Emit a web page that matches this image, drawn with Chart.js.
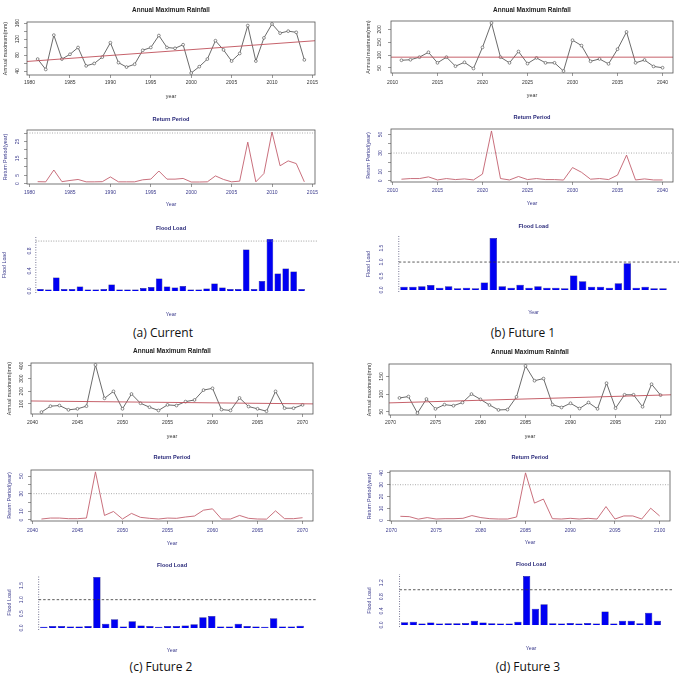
<!DOCTYPE html>
<html>
<head>
<meta charset="utf-8">
<script src="https://cdn.jsdelivr.net/npm/chart.js@4.4.1/dist/chart.umd.min.js"></script>
<style>
body{margin:0;width:679px;height:673px;overflow:hidden;background:#fff;position:relative}
canvas{position:absolute}
.cap{position:absolute;font-family:"Open Sans",sans-serif;font-size:12px;color:#111;transform:translate(-50%,-50%);white-space:nowrap}
</style>
</head>
<body>
<div class="cap" style="left:163px;top:332px">(a) Current</div>
<div class="cap" style="left:523px;top:332px">(b) Future 1</div>
<div class="cap" style="left:161px;top:666px">(c) Future 2</div>
<div class="cap" style="left:528px;top:666px">(d) Future 3</div>
<script>
// DATA
// (a) current
const aYears = span(1981, 2014);
const aRain = [70,44,130,70,82,99,53,59,75,111,61,50,57,92,99,129,99,97,106,35,51,70,116,93,65,84,154,65,123,158,135,140,137,68];
const aTrend = [64, 116];
const aReturn = [1.2,1.1,8.1,1.2,1.9,2.5,1.1,1.1,1.2,4,1.1,1.1,1.1,2.3,2.7,7.5,2.7,2.7,3.1,1,1,1.1,4.6,2.5,1.1,1.5,24.6,1.1,6,30.6,10.6,13.5,11.9,1.1];
const aFlood = [0.04,0.03,0.27,0.04,0.04,0.09,0.03,0.03,0.04,0.13,0.03,0.03,0.03,0.06,0.08,0.25,0.09,0.07,0.1,0.03,0.03,0.05,0.15,0.07,0.04,0.04,0.83,0.04,0.2,1.04,0.35,0.45,0.39,0.04];

// (b) future 1
const bYears = span(2011, 2040);
const bRain = [80,82,92,111,70,92,57,72,48,130,225,92,70,114,67,89,70,70,38,158,137,76,85,66,123,190,70,81,56,51];
const bTrend = [92, 92];
const bReturn = [1.9,2.6,2.6,4.4,1.1,2.6,1.5,2.2,1.1,7.4,53.7,2.6,1.1,4.8,1.5,2.6,1.5,1.5,1,14.4,9.3,1.9,2.6,1.5,6.3,27.8,1.1,2.2,1.1,1.1];
const bFlood = [0.11,0.11,0.13,0.18,0.08,0.13,0.06,0.08,0.06,0.27,1.86,0.13,0.08,0.19,0.08,0.13,0.08,0.08,0.06,0.52,0.31,0.11,0.11,0.08,0.24,0.96,0.08,0.11,0.06,0.06];

// (c) future 2
const cYears = span(2041, 2070);
const cRain = [35,82,87,53,61,82,408,144,199,61,178,105,74,48,92,87,118,131,209,223,55,48,147,79,61,42,199,66,66,92];
const cTrend = [123, 100];
const cReturn = [1.1,2.2,2.2,1.5,1.5,2.2,54.8,5.2,9.7,1.1,7.5,3,1.9,1.1,2.2,1.9,3.4,4.5,11.2,12.7,1.1,1.1,5.2,1.9,1.1,1,10.4,1.5,1.5,2.6];
const cFlood = [0.04,0.07,0.07,0.05,0.05,0.07,1.8,0.15,0.31,0.05,0.24,0.09,0.07,0.04,0.07,0.07,0.09,0.13,0.38,0.42,0.05,0.05,0.15,0.07,0.05,0.04,0.34,0.05,0.05,0.08];

// (d) future 3
const dYears = span(2071, 2100);
const dRain = [89,93,46,86,58,70,67,76,100,85,69,55,56,92,180,138,144,70,62,74,59,76,58,131,60,98,98,64,128,97];
const dTrend = [75, 98];
const dReturn = [3.4,3.1,1,2.3,1.1,1.4,1.4,1.7,4,2.3,1.4,1.1,1.1,2.8,40,14.5,17.9,1.4,1.1,1.7,1.1,1.7,1.1,11.6,1.1,3.7,3.7,1.1,10.2,3.7];
const dFlood = [0.08,0.09,0.04,0.07,0.04,0.05,0.05,0.06,0.12,0.07,0.05,0.04,0.04,0.09,1.39,0.46,0.59,0.05,0.04,0.06,0.04,0.06,0.04,0.38,0.04,0.12,0.12,0.05,0.35,0.12];

// tick marks and tick labels
const aYearTicks = [1980,1985,1990,1995,2000,2005,2010,2015];
const bYearTicks = [2010,2015,2020,2025,2030,2035,2040];
const cYearTicks = [2040,2045,2050,2055,2060,2065,2070];
const dYearTicks = [2070,2075,2080,2085,2090,2095,2100];
const aRainTicks = [40,60,80,100,120,140,160], aRainLabels = [40,80,120,160];
const bRainTicks = [50,100,150,200];
const cRainTicks = [100,200,300,400];
const dRainTicks = [50,100,150];
const aReturnTicks = [0,5,10,15,20,25,30], aReturnLabels = [0,5,15,25];
const bReturnTicks = [0,10,20,30,40,50], bReturnLabels = [0,10,30,50];
const dReturnTicks = [0,10,20,30,40];
const aFloodTicks = [0,0.4,0.8];
const bFloodTicks = [0,0.5,1,1.5];
const dFloodTicks = [0,0.4,0.8,1.2];
const returnLimit = 30, floodLimit = 1;

const FONT = '"Liberation Sans", Arial, sans-serif';

function span(a,b){ const r=[]; for(let y=a;y<=b;y++) r.push(y); return r; }
// R style axis range: data range plus 4% each side
function rlim(v){ const lo=Math.min(...v), hi=Math.max(...v), d=(hi-lo)*0.04; return [lo-d,hi+d]; }

// box, reference lines, title and rotated y labels like base R
function frame(g, kind, d, top){
  return {
    id:'frame',
    afterDraw(c){
      const ctx=c.ctx, a=c.chartArea, y=c.scales.y, x=c.scales.x;
      ctx.save();
      if(kind!=='flood'){
        ctx.strokeStyle='#555'; ctx.lineWidth=0.8;
        ctx.strokeRect(a.left,a.top,a.right-a.left,a.bottom-a.top);
      }
      if(kind==='rp'){
        const py=y.getPixelForValue(returnLimit);
        ctx.setLineDash([1,1.5]); ctx.strokeStyle='#888'; ctx.lineWidth=0.7;
        ctx.beginPath(); ctx.moveTo(a.left,py); ctx.lineTo(a.right,py); ctx.stroke();
      }
      let tx=(a.left+a.right)/2;
      if(kind==='flood'){
        const px=x.getPixelForValue(0), py=y.getPixelForValue(floodLimit);
        ctx.setLineDash([1,1.5]); ctx.strokeStyle='#55557a'; ctx.lineWidth=0.8;
        ctx.beginPath(); ctx.moveTo(px,a.bottom); ctx.lineTo(px,a.top); ctx.stroke();
        ctx.setLineDash(g.soft?[1,1.5]:[2.5,2]); ctx.strokeStyle=g.soft?'#888':'#333';
        ctx.beginPath(); ctx.moveTo(px,py); ctx.lineTo(a.right,py); ctx.stroke();
      }
      ctx.setLineDash([]);
      ctx.textAlign='center'; ctx.textBaseline='middle';
      ctx.fillStyle=kind==='rain'?'#222':'#2a2a7a';
      ctx.font='bold '+(kind==='rain'?6.4:5.6)+'px '+FONT;
      ctx.fillText(g.title,tx,g.titleY-top);
      ctx.font='5px '+FONT;
      ctx.fillStyle=kind==='rain'?'#333':'#3a3a8c';
      (d.ylabels||d.yticks).forEach(v=>{
        ctx.save();
        ctx.translate(g.ytickX-g.x0,y.getPixelForValue(v));
        ctx.rotate(-Math.PI/2);
        ctx.fillText(d.digits?v.toFixed(d.digits):String(v),0,0);
        ctx.restore();
      });
      ctx.restore();
    }
  };
}

function build(g, kind, d){
  const top=g.titleY-6, bottom=Math.round(g.xtitleY+4);
  const [l,t,r,b]=g.box;
  const cv=document.createElement('canvas');
  cv.width=g.w; cv.height=bottom-top;
  cv.style.left=g.x0+'px'; cv.style.top=top+'px';
  document.body.appendChild(cv);

  const ink=kind==='rain'?'#333':'#3a3a8c';
  const axFont={family:FONT,size:5.3,lineHeight:1};
  let datasets, xs, yl;

  if(kind==='flood'){
    const n=d.vals.length, xl=rlim([0,1.2*n+0.2]);
    yl=rlim([0,...d.vals]);
    datasets=[{data:d.vals.map((v,i)=>({x:0.7+1.2*i,y:v})),
      backgroundColor:'#0000f2',borderColor:'#00006a',borderWidth:0.5,
      barPercentage:1/1.2,categoryPercentage:1}];
    xs={type:'linear',min:xl[0],max:xl[1],offset:false,
      grid:{display:false},border:{display:false},ticks:{display:false}};
  } else {
    const xl=rlim(d.years);
    yl=rlim(d.vals);
    datasets=[];
    if(kind==='rain'){
      datasets.push({data:[{x:xl[0],y:d.trend[0]},{x:xl[1],y:d.trend[1]}],
        borderColor:'#c0505a',borderWidth:0.9,pointRadius:0});
      datasets.push({data:d.years.map((x,i)=>({x,y:d.vals[i]})),
        borderColor:'#454545',borderWidth:0.8,pointRadius:1.4,pointBorderWidth:0.6,
        pointBorderColor:'#454545',pointBackgroundColor:'#fff'});
    } else {
      datasets.push({data:d.years.map((x,i)=>({x,y:d.vals[i]})),
        borderColor:'#c3606e',borderWidth:0.9,pointRadius:0});
    }
    xs={type:'linear',min:xl[0],max:xl[1],offset:false,
      afterBuildTicks:s=>{s.ticks=d.xticks.map(v=>({value:v}));},
      ticks:{color:ink,font:{family:FONT,size:5,lineHeight:1},padding:g.xtickY-b-3-2.5,
        maxRotation:0,autoSkip:false,callback:v=>String(v)},
      grid:{drawOnChartArea:false,drawTicks:true,tickLength:3,color:'#555',lineWidth:0.6},
      border:{display:false}};
  }
  xs.afterFit=s=>{s.height=bottom-b; s.paddingLeft=0; s.paddingRight=0;};
  xs.title={display:true,text:kind==='rain'?'year':'Year',color:ink,font:axFont,padding:{top:0,bottom:1}};

  const ys={type:'linear',min:yl[0],max:yl[1],
    afterBuildTicks:s=>{s.ticks=d.yticks.map(v=>({value:v}));},
    afterFit:s=>{s.width=l-g.x0; s.paddingTop=0; s.paddingBottom=0;},
    ticks:{display:false},
    grid:{display:kind!=='flood',drawOnChartArea:false,drawTicks:true,tickLength:3,color:'#555',lineWidth:0.6},
    border:{display:false},
    title:{display:true,text:g.ytitle,color:ink,font:axFont,padding:{top:g.ytitleX-g.x0-2.65,bottom:0}}};

  new Chart(cv,{
    type:kind==='flood'?'bar':'line',
    data:{datasets},
    options:{responsive:false,animation:false,devicePixelRatio:1,
      layout:{padding:{left:0,top:t-top,right:g.x0+g.w-r,bottom:0}},
      plugins:{legend:{display:false},tooltip:{enabled:false}},
      scales:{x:xs,y:ys}},
    plugins:[frame(g,kind,d,top)]
  });
}

const RT='Annual Maximum Rainfall', PT='Return Period', FT='Flood Load';
const RY='Annual maximum(mm)', PY='Return Period(year)', FY='Flood Load';

// panel (a)
build({x0:0,w:340,box:[27,22,315,75],titleY:10,xtickY:83,xtitleY:96,ytickX:18,ytitleX:6,title:RT,ytitle:RY},
  'rain',{years:aYears,vals:aRain,trend:aTrend,xticks:aYearTicks,yticks:aRainTicks,ylabels:aRainLabels});
build({x0:0,w:340,box:[27,130,315,184],titleY:119,xtickY:193,xtitleY:204,ytickX:18,ytitleX:6,title:PT,ytitle:PY},
  'rp',{years:aYears,vals:aReturn,xticks:aYearTicks,yticks:aReturnTicks,ylabels:aReturnLabels});
build({x0:0,w:340,box:[25,237,317,293],titleY:228,xtitleY:314,ytickX:30,ytitleX:5,title:FT,ytitle:FY,soft:true},
  'flood',{vals:aFlood,yticks:aFloodTicks,digits:1});

// panel (b)
build({x0:340,w:339,box:[391,21,673,73],titleY:10,xtickY:83,xtitleY:95,ytickX:380,ytitleX:369,title:RT,ytitle:RY},
  'rain',{years:bYears,vals:bRain,trend:bTrend,xticks:bYearTicks,yticks:bRainTicks});
build({x0:340,w:339,box:[391,129,673,182],titleY:117,xtickY:191,xtitleY:203,ytickX:381,ytitleX:369,title:PT,ytitle:PY},
  'rp',{years:bYears,vals:bReturn,xticks:bYearTicks,yticks:bReturnTicks,ylabels:bReturnLabels});
build({x0:340,w:339,box:[388,236,679,292],titleY:226,xtitleY:312,ytickX:382,ytitleX:369,title:FT,ytitle:FY},
  'flood',{vals:bFlood,yticks:bFloodTicks,digits:1});

// panel (c)
build({x0:0,w:340,box:[31,363,313,414],titleY:351,xtickY:423,xtitleY:436,ytickX:22,ytitleX:10,title:RT,ytitle:RY},
  'rain',{years:cYears,vals:cRain,trend:cTrend,xticks:cYearTicks,yticks:cRainTicks});
build({x0:0,w:340,box:[31,470,313,521],titleY:457,xtickY:531,xtitleY:543,ytickX:22,ytitleX:10,title:PT,ytitle:PY},
  'rp',{years:cYears,vals:cReturn,xticks:cYearTicks,yticks:bReturnTicks,ylabels:bReturnLabels});
build({x0:0,w:340,box:[28,575,316,630],titleY:565,xtitleY:650,ytickX:22,ytitleX:10,title:FT,ytitle:FY},
  'flood',{vals:cFlood,yticks:bFloodTicks,digits:1});

// panel (d)
build({x0:340,w:339,box:[389,364,671,415],titleY:352,xtickY:423,xtitleY:436,ytickX:382,ytitleX:370,title:RT,ytitle:RY},
  'rain',{years:dYears,vals:dRain,trend:dTrend,xticks:dYearTicks,yticks:dRainTicks});
build({x0:340,w:339,box:[390,471,670,521],titleY:457,xtickY:531,xtitleY:542,ytickX:382,ytitleX:370,title:PT,ytitle:PY},
  'rp',{years:dYears,vals:dReturn,xticks:dYearTicks,yticks:dReturnTicks});
build({x0:340,w:339,box:[389,574,673,627],titleY:564,xtitleY:648,ytickX:382,ytitleX:370,title:FT,ytitle:FY},
  'flood',{vals:dFlood,yticks:dFloodTicks,digits:1});
</script>
</body>
</html>
